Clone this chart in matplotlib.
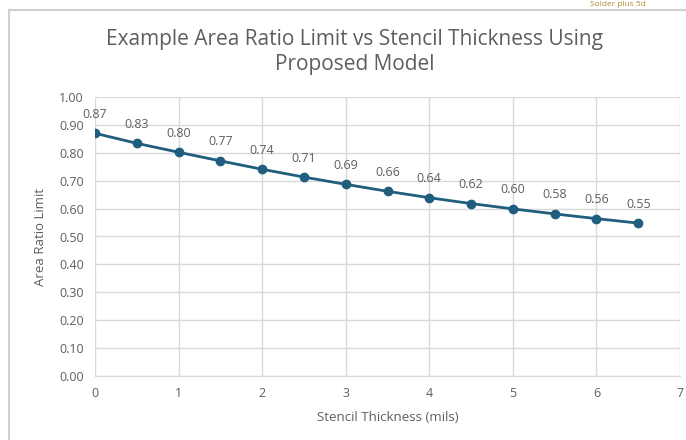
import matplotlib
matplotlib.use("Agg")
import matplotlib.pyplot as plt
from matplotlib.lines import Line2D

thickness = [0, 0.5, 1, 1.5, 2, 2.5, 3, 3.5, 4, 4.5, 5, 5.5, 6, 6.5]
ratio = [0.87, 0.834, 0.802, 0.771, 0.741, 0.713, 0.687, 0.662, 0.639, 0.618, 0.599, 0.581, 0.564, 0.548]
labels = ["0.87", "0.83", "0.80", "0.77", "0.74", "0.71", "0.69", "0.66", "0.64", "0.62", "0.60", "0.58", "0.56", "0.55"]
title = "Example Area Ratio Limit vs Stencil Thickness Using\nProposed Model"
xlabel = "Stencil Thickness (mils)"
ylabel = "Area Ratio Limit"

plt.rcParams['font.family'] = ['Open Sans', 'DejaVu Sans']
gray = "#5E5E5E"
line_c = "#1F5E7E"

fig = plt.figure(figsize=(6.86, 4.4), dpi=100)
ax = fig.add_axes([95/686, (440-376)/440, (680-95)/686, (376-97)/440])

ax.plot(thickness, ratio, color=line_c, lw=2, marker='o', ms=6, zorder=3)
for x, y, t in zip(thickness, ratio, labels):
    ax.annotate(t, (x, y), xytext=(0, 9), textcoords='offset points',
                ha='center', va='bottom', fontsize=9, color=gray)

ax.set_xlim(0, 7)
ax.set_ylim(0, 1.0)
ax.set_xticks(range(0, 8))
ax.set_yticks([i/10 for i in range(11)])
ax.set_yticklabels([f"{i/10:.2f}" for i in range(11)])
ax.grid(True, color="#D9D9D9", lw=1)
ax.set_axisbelow(True)
for s in ['top', 'right', 'left']:
    ax.spines[s].set_visible(False)
ax.spines['bottom'].set_color("#D9D9D9")
ax.tick_params(length=0, colors=gray, labelsize=9, pad=8)
ax.set_xlabel(xlabel, color=gray, fontsize=9.5, labelpad=8)
ax.set_ylabel(ylabel, color=gray, fontsize=9.5, labelpad=9)

fig.text(355/686, 1 - 52/440, title, ha='center', va='center', fontsize=15,
         color=gray, linespacing=1.2)

# screenshot frame
fig.add_artist(Line2D([9/686, 1], [1 - 10/440, 1 - 10/440], color="#D0D0D0", lw=1.5))
fig.add_artist(Line2D([9/686, 9/686], [0, 1 - 10/440], color="#D0D0D0", lw=1.5))
fig.text(590/686, 1 - 1/440, "Solder plus 5d", ha='left', va='top', fontsize=6, color="#B08A2E")

fig.savefig("out.png", dpi=100)
